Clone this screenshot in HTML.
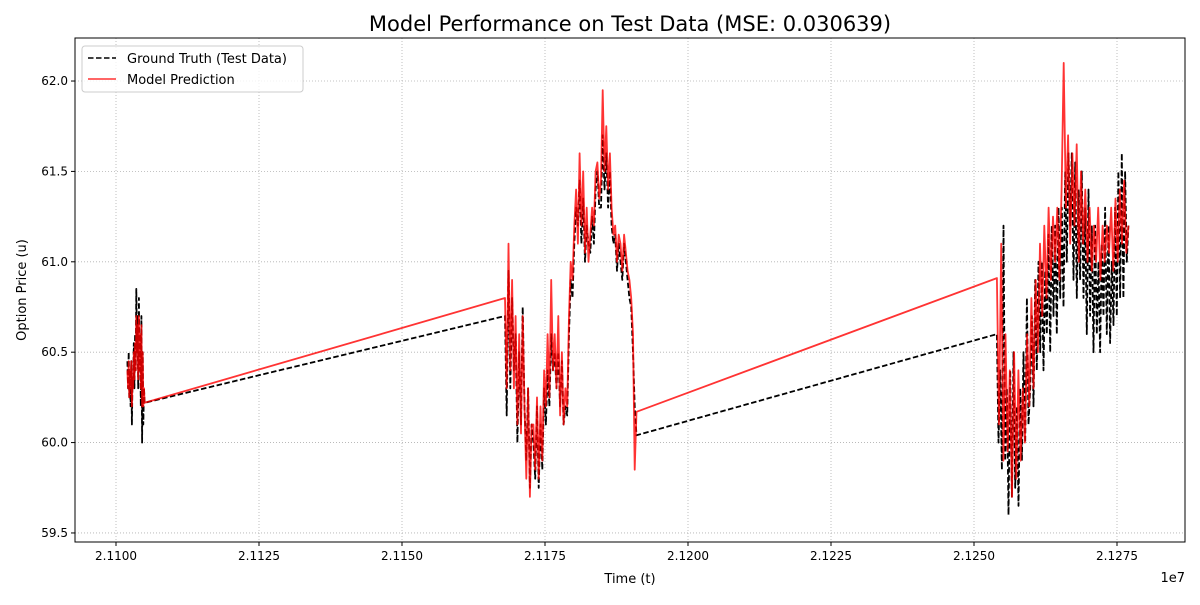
<!DOCTYPE html>
<html><head><meta charset="utf-8"><style>
body{margin:0;background:#fff;font-family:"Liberation Sans","DejaVu Sans",sans-serif}
svg text{font-family:"DejaVu Sans","Liberation Sans",sans-serif}
</style></head><body>
<svg id="chart" width="1200" height="600" xmlns="http://www.w3.org/2000/svg">
<rect width="1200" height="600" fill="#fff"/>
<g id="grid"></g><g id="series"></g><g id="axes"></g>
<text x="630" y="31" font-size="21" text-anchor="middle">Model Performance on Test Data (MSE: 0.030639)</text>
<text x="630" y="583" font-size="13" text-anchor="middle">Time (t)</text>
<text x="1185" y="582" font-size="13" text-anchor="end">1e7</text>
<text transform="translate(26,290) rotate(-90)" font-size="13" text-anchor="middle">Option Price (u)</text>
<g>
<rect x="82" y="46" width="221" height="46" rx="3" fill="#fff" fill-opacity="0.8" stroke="#ccc"/>
<line x1="88" y1="58" x2="116" y2="58" stroke="#000" stroke-width="1.5" stroke-dasharray="5.5,2.5"/>
<text x="127" y="63" font-size="13">Ground Truth (Test Data)</text>
<line x1="88" y1="79" x2="116" y2="79" stroke="#ff0000" stroke-opacity="0.8" stroke-width="1.5"/>
<text x="127" y="84" font-size="13">Model Prediction</text>
</g>
</svg>
<script>
const xTicks=[21100000,21112500,21125000,21137500,21150000,21162500,21175000,21187500,21200000,21212500,21225000,21237500,21250000,21262500,21275000];
const xTickLabels=["2.1100","2.1125","2.1150","2.1175","2.1200","2.1225","2.1250","2.1275"];
const yTicks=[59.5,60.0,60.5,61.0,61.5,62.0];
const clusterStart=[21102000,21168000,21254000];
const clusterEnd=[21105000,21191000,21277000];
const truth1=[60.45,60.3,60.5,60.25,60.4,60.2,60.45,60.1,60.35,60.3,60.55,60.3,60.6,60.4,60.85,60.5,60.7,60.3,60.8,60.4,60.6,60.2,60.7,60.0,60.5,60.1,60.3,60.22];
const pred1=[60.4,60.3,60.45,60.25,60.4,60.3,60.45,60.2,60.35,60.3,60.5,60.35,60.55,60.4,60.7,60.5,60.65,60.35,60.7,60.4,60.6,60.3,60.65,60.2,60.5,60.2,60.3,60.22];
const truth2=[60.7,60.15,60.95,60.3,60.8,60.4,60.6,60.0,60.5,60.1,60.75,60.2,59.9,60.3,59.75,60.1,60.0,59.8,60.2,59.75,60.1,59.85,60.3,60.1,60.4,60.2,60.6,60.4,60.5,60.3,60.5,60.2,60.45,60.1,60.2,60.15,60.6,60.9,60.8,61.1,61.3,61.2,61.45,61.1,61.35,61.0,61.2,61.1,61.05,61.25,61.1,61.4,61.5,61.3,61.3,61.7,61.4,61.6,61.3,61.5,61.2,61.1,61.15,60.95,61.1,61.0,60.9,61.1,61.0,60.9,60.8,60.75,60.5,60.2,60.04];
const pred2=[60.8,60.3,61.1,60.4,60.9,60.3,60.7,60.1,60.6,60.05,60.7,60.2,59.8,60.3,59.7,60.1,60.1,59.85,60.25,59.8,60.2,59.9,60.4,60.2,60.6,60.25,60.9,60.4,60.6,60.3,60.7,60.15,60.5,60.1,60.3,60.2,60.7,61.0,60.9,61.2,61.4,61.1,61.6,61.2,61.5,61.05,61.3,61.0,61.15,61.3,61.2,61.5,61.55,61.35,61.45,61.95,61.5,61.75,61.4,61.6,61.3,61.15,61.2,61.0,61.15,61.1,60.95,61.15,61.05,60.95,60.9,60.8,60.6,59.85,60.17];
const truth3=[60.6,60.0,60.4,59.85,61.2,59.9,60.3,59.6,60.4,59.7,60.5,59.75,60.2,59.65,60.3,59.9,60.5,60.0,60.8,60.1,60.3,60.7,60.2,60.9,60.4,61.0,60.5,61.0,60.4,60.95,60.6,61.15,60.5,61.2,60.7,61.2,60.6,61.3,60.8,61.3,60.75,61.5,61.0,61.6,61.2,61.6,60.9,61.55,60.8,61.4,60.9,61.5,60.8,61.3,60.6,61.4,60.7,61.2,60.5,61.2,60.6,61.0,60.5,61.1,60.7,61.3,60.6,61.2,60.55,61.0,60.65,61.3,60.7,61.5,60.8,61.6,60.8,61.5,61.0,61.2];
const pred3=[60.91,60.1,61.1,59.9,60.6,59.95,60.4,59.7,60.5,59.8,60.4,59.9,60.3,60.0,60.6,60.2,60.8,60.3,60.9,60.5,61.1,60.7,61.2,60.8,61.3,60.9,61.25,61.0,61.3,60.9,61.4,62.1,61.3,61.7,61.1,61.6,61.2,61.65,61.0,61.5,61.1,61.4,61.0,61.3,60.95,61.2,61.0,61.3,60.9,61.2,61.0,61.2,61.05,61.3,60.95,61.35,61.0,61.4,61.1,61.45,61.05,61.2];
const X0=21092832,X1=21286888,Y0=59.45,Y1=62.238,PL=75,PR=1185,PT=38,PB=542;
const xs=t=>PL+(t-X0)/(X1-X0)*(PR-PL);
const ys=v=>PB-(v-Y0)/(Y1-Y0)*(PB-PT);
const NS="http://www.w3.org/2000/svg";
function mk(tag,attrs,parent){const e=document.createElementNS(NS,tag);for(const k in attrs)e.setAttribute(k,attrs[k]);parent.appendChild(e);return e;}
const grid=document.getElementById('grid'),axes=document.getElementById('axes'),series=document.getElementById('series');
xTicks.forEach((t,i)=>{if(i%2)return;const x=xs(t);
 const g=mk('line',{x1:x,x2:x,y1:PT,y2:PB,stroke:'#b0b0b0','stroke-width':0.8,'stroke-dasharray':'1,2'},grid);
 
 mk('line',{x1:x,x2:x,y1:PB,y2:PB+4,stroke:'#000'},axes);
 const tx=mk('text',{x:x,y:PB+18,'font-size':12,'text-anchor':'middle'},axes);tx.textContent=xTickLabels[i/2];
 });
yTicks.forEach(v=>{const y=ys(v);
 const g=mk('line',{x1:PL,x2:PR,y1:y,y2:y,stroke:'#b0b0b0','stroke-width':0.8,'stroke-dasharray':'1,2'},grid);
 
 mk('line',{x1:PL-4,x2:PL,y1:y,y2:y,stroke:'#000'},axes);
 const tx=mk('text',{x:PL-7,y:y+4,'font-size':12,'text-anchor':'end'},axes);tx.textContent=v.toFixed(1);
 });
const fr=mk('rect',{x:PL,y:PT,width:PR-PL,height:PB-PT,fill:'none',stroke:'#000','stroke-width':1},axes);

function pts(arrs){let p=[];arrs.forEach((a,c)=>{a.forEach((v,i)=>{const t=clusterStart[c]+(clusterEnd[c]-clusterStart[c])*i/(a.length-1);p.push(xs(t).toFixed(1)+','+ys(v).toFixed(1));});});return p.join(' ');}
const lt=mk('polyline',{points:pts([truth1,truth2,truth3]),fill:'none',stroke:'#000','stroke-width':1.8,'stroke-dasharray':'5.5,2.5','stroke-linejoin':'round'},series);

const lp=mk('polyline',{points:pts([pred1,pred2,pred3]),fill:'none',stroke:'#ff0000','stroke-opacity':0.8,'stroke-width':1.8,'stroke-linejoin':'round'},series);

</script>
</body></html>
